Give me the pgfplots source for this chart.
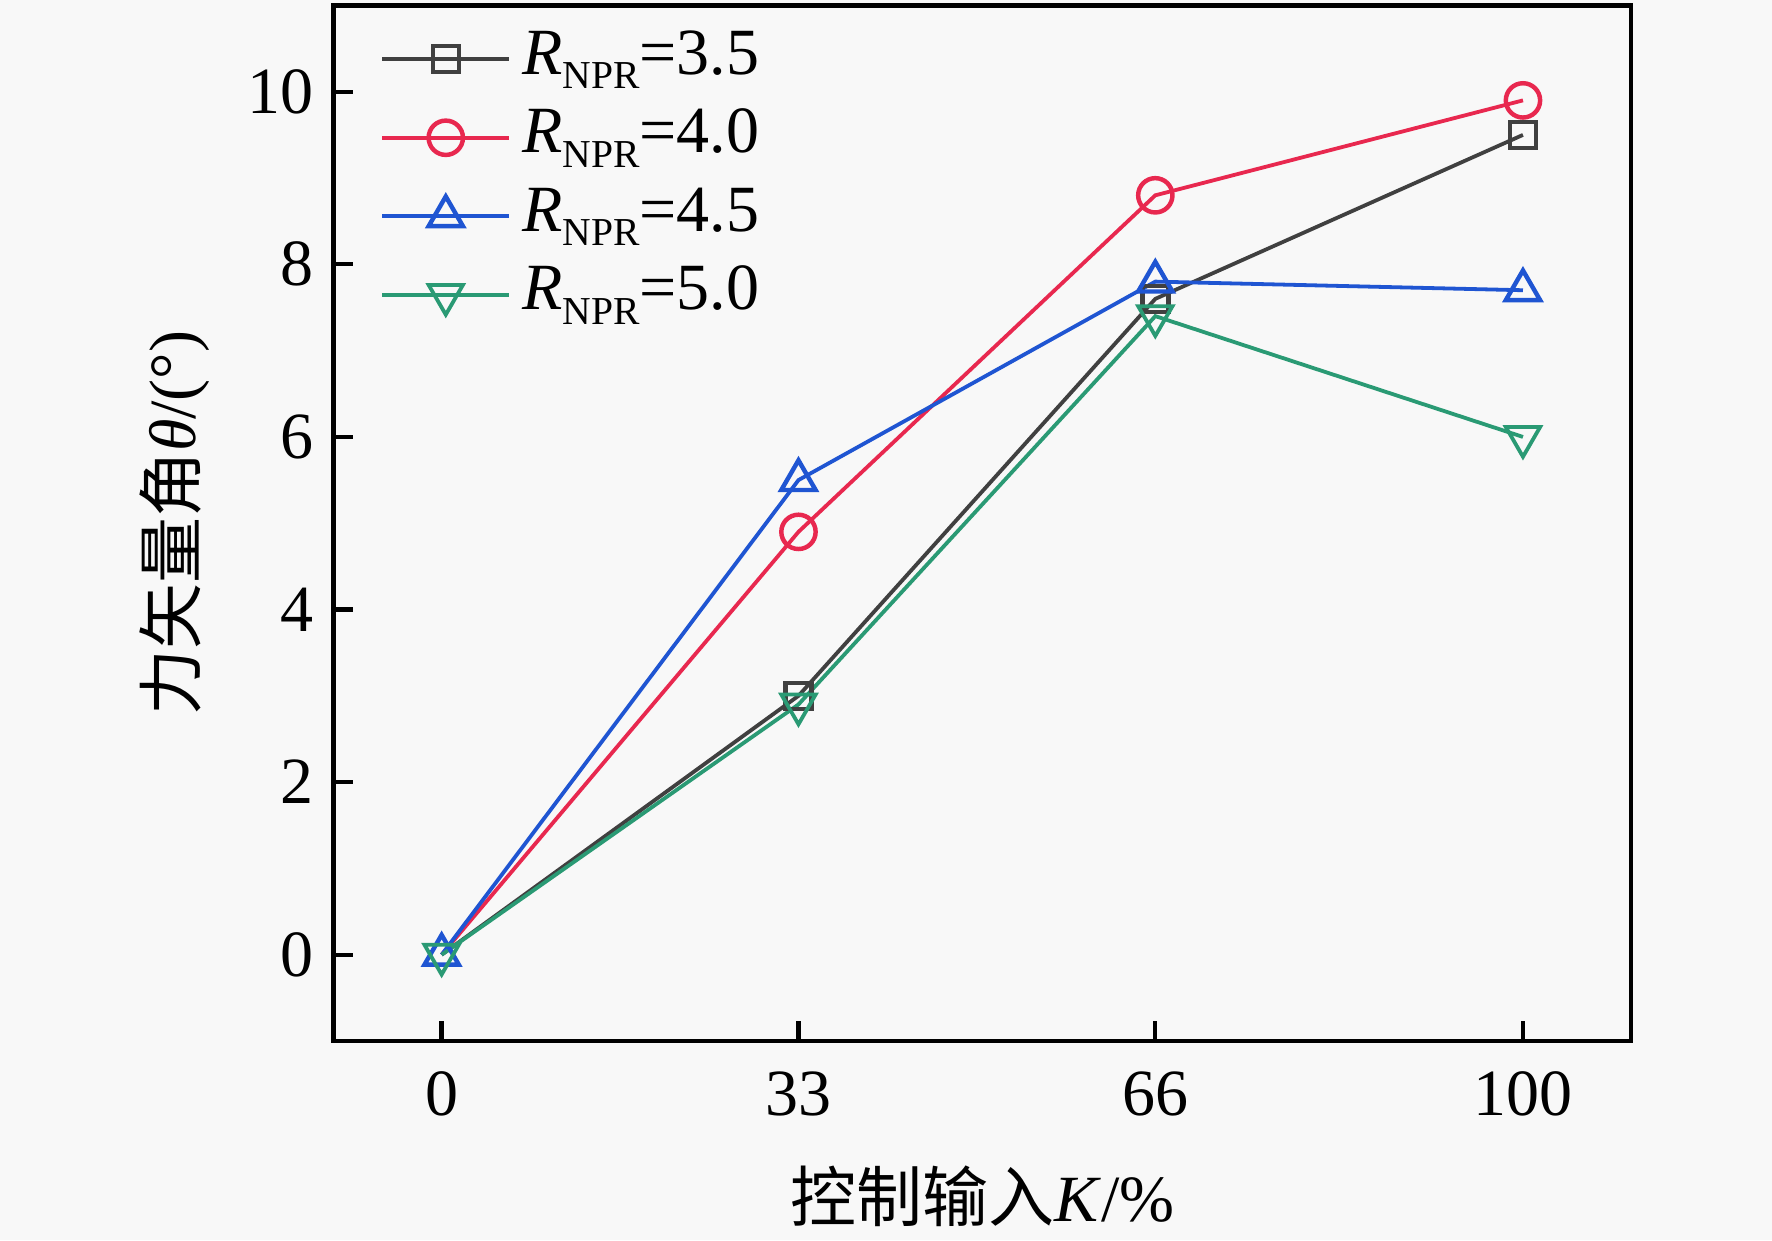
\documentclass[border=0pt]{standalone}
\usepackage{fontspec}
\setmainfont{Liberation Serif}
\newfontfamily\cjk{Noto Sans CJK SC}
\usepackage{pgfplots}
\pgfplotsset{compat=1.18}
\definecolor{bgc}{HTML}{F8F8F8}
\definecolor{cgray}{HTML}{404040}
\definecolor{cred}{HTML}{E8284F}
\definecolor{cblue}{HTML}{1F55D2}
\definecolor{cgreen}{HTML}{2A9A74}
\newcommand{\RN}[1]{{\itshape R}\raisebox{-4.5pt}{\fontsize{12}{12}\selectfont NPR}=#1}
\begin{document}
\begin{tikzpicture}
\path[use as bounding box, fill=bgc] (-101.06pt,-60.3pt) rectangle (435.9pt,315.45pt);
\begin{axis}[
  at={(0,0)}, anchor=south west,
  scale only axis, width=393.2pt, height=313.8pt,
  xmin=-10, xmax=110, ymin=-1, ymax=11,
  xtick={0,33,66,100}, ytick={0,2,4,6,8,10},
  tick pos=left, tick align=inside, major tick length=6pt,
  tick style={line width=1.3pt, black},
  axis line style={line width=1.3pt, black},
  /pgf/number format/assume math mode=true,
  ticklabel style={font=\fontsize{20}{23}\selectfont},
  xticklabel style={anchor=base, yshift=-22.6pt},
  yticklabel style={xshift=-2.6pt},
  xlabel={{\cjk 控制输入}\textit{K}/\%},
  ylabel={{\cjk 力矢量角}\textit{θ}/(°)},
  label style={font=\fontsize{20}{24}\selectfont},
  xlabel style={at={(axis description cs:0.5,-0.1498)}, anchor=center},
  ylabel style={at={(axis description cs:-0.1221,0.5)}, anchor=center, rotate=0},
  legend style={at={(axis description cs:0.0356,0.979)}, anchor=north west,
    draw=none, fill=none, inner sep=0pt, row sep=4.8pt,
    font=\fontsize{20}{24}\selectfont,
    nodes={inner sep=0pt, text height=14pt, text depth=5pt},
    /tikz/column 1/.style={column sep=3.3pt}},
  legend cell align=left,
  legend image code/.code={%
    \draw[mark indices={2}] plot coordinates {(0pt,0pt) (19.25pt,0pt) (38.5pt,0pt)};},
  every axis plot/.append style={line width=1.15pt, mark options={solid, fill=bgc, line width=1.35pt}},
]
\addplot[cgray, mark=square, mark size=3.95pt, mark indices={2,3,4}] coordinates {(0,0) (33,3.0) (66,7.6) (100,9.5)};
\addlegendentry{\RN{3.5}}
\addplot[cred, mark=o, mark size=5.2pt, mark indices={2,3,4}] coordinates {(0,0) (33,4.9) (66,8.8) (100,9.9)};
\addlegendentry{\RN{4.0}}
\addplot[cblue, mark=triangle, mark size=6pt] coordinates {(0,0) (33,5.5) (66,7.8) (100,7.7)};
\addlegendentry{\RN{4.5}}
\addplot[cgreen, mark=triangle, mark size=6pt, mark options={rotate=180}] coordinates {(0,0) (33,2.9) (66,7.4) (100,6.0)};
\addlegendentry{\RN{5.0}}
\end{axis}
\end{tikzpicture}
\end{document}
